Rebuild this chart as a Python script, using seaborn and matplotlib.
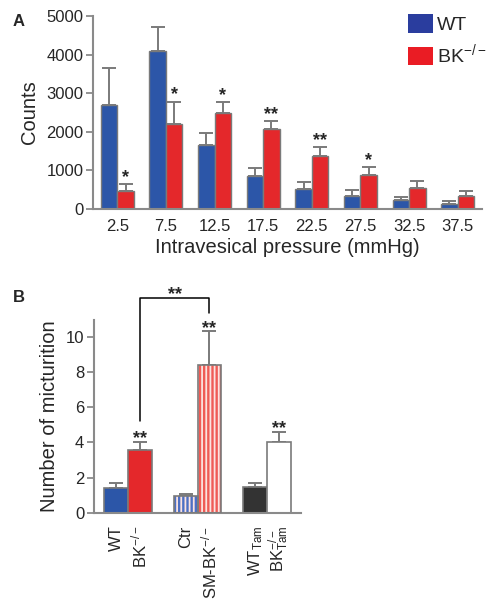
import numpy as np
import pandas as pd
import matplotlib
matplotlib.use("Agg")
import matplotlib.pyplot as plt
import seaborn as sns
from matplotlib.patches import Patch, Rectangle

# ---- panel A data
pressure = ["2.5", "7.5", "12.5", "17.5", "22.5", "27.5", "32.5", "37.5"]
wt_counts = [2700, 4100, 1650, 850, 520, 340, 220, 140]
wt_err = [950, 620, 320, 220, 180, 140, 100, 60]
bk_counts = [470, 2200, 2480, 2080, 1370, 870, 550, 340]
bk_err = [180, 580, 290, 200, 230, 210, 170, 120]
a_stars = ["*", "*", "*", "**", "**", "*", "", ""]

# ---- panel B data
b_groups = ["g1", "g2", "g3"]
b_left = [1.42, 0.98, 1.45]
b_left_err = [0.28, 0.10, 0.26]
b_right = [3.6, 8.4, 4.05]
b_right_err = [0.43, 1.9, 0.57]
b_right_stars = ["**", "**", "**"]
b_ticklabels = ["WT", r"BK$^{-/-}$", "Ctr", r"SM-BK$^{-/-}$",
                r"WT$_{\mathrm{Tam}}$", r"BK$^{-/-}_{\mathrm{Tam}}$"]
bracket_y = [5.2, 12.2, 12.2, 11.35]

BLUE = "#2c56a8"
RED = "#e4282b"
GREY = "#7a7a7a"

sns.set_theme(style="ticks")
plt.rcParams["font.family"] = ["Liberation Sans", "DejaVu Sans"]
plt.rcParams["mathtext.fontset"] = "custom"
plt.rcParams["mathtext.rm"] = "Liberation Sans"
plt.rcParams["mathtext.it"] = "Liberation Sans:italic"
plt.rcParams["mathtext.bf"] = "Liberation Sans:bold"
plt.rcParams["mathtext.default"] = "regular"
plt.rcParams["hatch.linewidth"] = 1.3

fig = plt.figure(figsize=(4.99, 6.0), dpi=100)
axA = fig.add_axes([0.1864, 0.6517, 0.7796, 0.3217])
axB = fig.add_axes([0.1884, 0.145, 0.415, 0.3217])


def style_axes(ax):
    for s in ["top", "right"]:
        ax.spines[s].set_visible(False)
    for s in ["left", "bottom"]:
        ax.spines[s].set_color("#8a8a8a")
        ax.spines[s].set_linewidth(1.5)
    ax.tick_params(axis="y", length=5, width=1.3, color="#8a8a8a", labelsize=12, pad=2)
    ax.tick_params(axis="x", length=0, labelsize=12, pad=7)


def errbars(ax, container, err):
    xs = [b.get_x() + b.get_width() / 2 for b in container]
    ys = [b.get_height() for b in container]
    ax.errorbar(xs, ys, yerr=[np.zeros(len(err)), err], fmt="none",
                ecolor=GREY, elinewidth=1.4, capsize=5, capthick=1.4, zorder=1)
    return xs, [y + e for y, e in zip(ys, err)]


# ---------------- panel A
dfA = pd.DataFrame({
    "pressure": pressure * 2,
    "count": wt_counts + bk_counts,
    "geno": ["WT"] * len(pressure) + ["BK"] * len(pressure),
})
sns.barplot(data=dfA, x="pressure", y="count", hue="geno", ax=axA,
            palette={"WT": BLUE, "BK": RED}, width=0.68, gap=0, saturation=1,
            errorbar=None, edgecolor=GREY, linewidth=1.0, legend=False, zorder=2)
errbars(axA, axA.containers[0], wt_err)
xs, tops = errbars(axA, axA.containers[1], bk_err)
for x, t, s in zip(xs, tops, a_stars):
    if s:
        axA.annotate(s, (x, t), xytext=(0, 1.5), textcoords="offset points",
                     ha="center", va="baseline", fontsize=13, fontweight="bold")
axA.set_ylim(0, 5000)
axA.set_xlim(-0.5, 7.5)
axA.set_yticks([0, 1000, 2000, 3000, 4000, 5000])
style_axes(axA)
axA.set_xlabel("Intravesical pressure (mmHg)", fontsize=14.5, labelpad=3)
axA.set_ylabel("Counts", fontsize=14.5, labelpad=5)
handles = [Patch(facecolor="#2a3d9e", edgecolor="none"),
           Patch(facecolor="#ea1c24", edgecolor="none")]
fig.legend(handles, ["WT", r"BK$^{-/-}$"], loc="upper left",
           bbox_to_anchor=(408 / 499, 1 - 14 / 600), frameon=False, fontsize=14,
           handlelength=1.3, handleheight=1.1, handletextpad=0.2,
           labelspacing=0.45, borderpad=0, borderaxespad=0)

# ---------------- panel B
dfB = pd.DataFrame({
    "group": b_groups * 2,
    "value": b_left + b_right,
    "side": ["L"] * 3 + ["R"] * 3,
})
sns.barplot(data=dfB, x="group", y="value", hue="side", ax=axB,
            palette={"L": BLUE, "R": RED}, width=0.68, gap=0, saturation=1,
            errorbar=None, edgecolor=GREY, linewidth=1.2, legend=False, zorder=2)
left_bars = list(axB.containers[0])
right_bars = list(axB.containers[1])
left_faces = [BLUE, "#4d70c4", "#333333"]
right_faces = [RED, "#ef5b55", "white"]
hatched = [False, True, False]
for i in range(3):
    for bar, fc in ((left_bars[i], left_faces[i]), (right_bars[i], right_faces[i])):
        bar.set_facecolor(fc)
        if hatched[i]:
            bar.set_hatch("||||")
            bar.set_edgecolor("#fbe3e0")
            bar.set_linewidth(0)
            axB.add_patch(Rectangle((bar.get_x(), 0), bar.get_width(), bar.get_height(),
                                    fill=False, edgecolor=GREY, linewidth=1.2, zorder=3))
errbars(axB, left_bars, b_left_err)
xs, tops = errbars(axB, right_bars, b_right_err)
for x, t, s in zip(xs, tops, b_right_stars):
    axB.annotate(s, (x, t), xytext=(0, -1), textcoords="offset points",
                 ha="center", va="baseline", fontsize=13, fontweight="bold")

# bracket between BK-/- and SM-BK-/-
bx = [xs[0], xs[0], xs[1], xs[1]]
axB.plot(bx, bracket_y, color="black", lw=1.1, clip_on=False)
axB.annotate("**", ((xs[0] + xs[1]) / 2, bracket_y[1]), xytext=(0, -1),
             textcoords="offset points", ha="center", va="baseline",
             fontsize=13, fontweight="bold", annotation_clip=False)

axB.set_ylim(0, 10.95)
axB.set_xlim(-0.49, 2.49)
axB.set_yticks([0, 2, 4, 6, 8, 10])
centers = []
for i in range(3):
    for bar in (left_bars[i], right_bars[i]):
        centers.append(bar.get_x() + bar.get_width() / 2)
axB.set_xticks(centers)
axB.set_xticklabels(b_ticklabels, rotation=90)
style_axes(axB)
axB.tick_params(axis="x", pad=9)
axB.set_xlabel("")
axB.set_ylabel("Number of micturition", fontsize=14.5, labelpad=5)

fig.text(13 / 499, 1 - 22 / 600, "A", fontsize=12, fontweight="bold", va="center")
fig.text(13 / 499, 1 - 297 / 600, "B", fontsize=12, fontweight="bold", va="center")

fig.savefig("out.png", dpi=100)
